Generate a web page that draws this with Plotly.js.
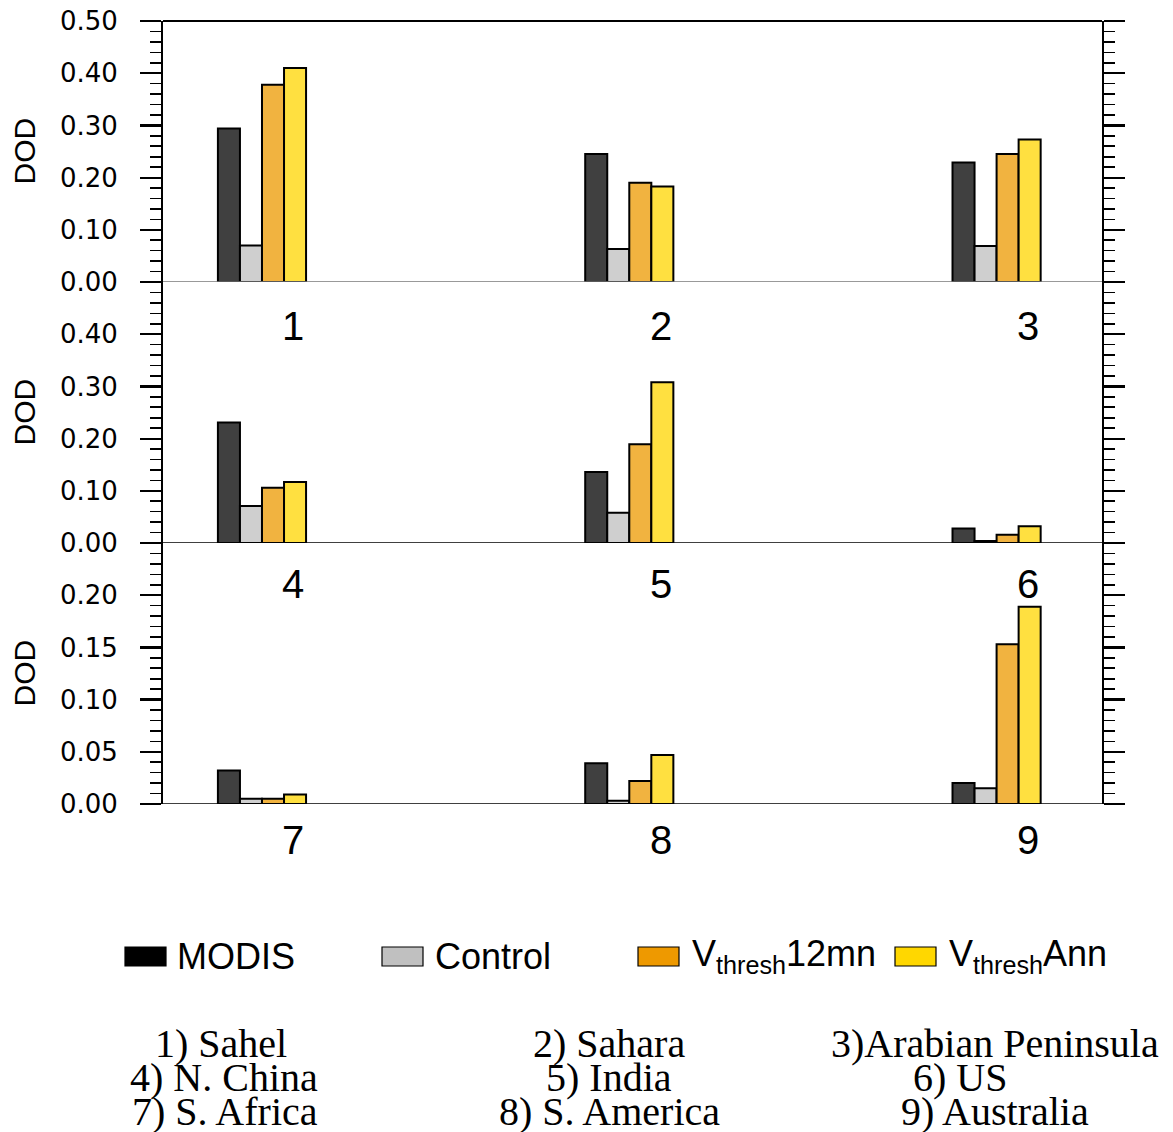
<!DOCTYPE html>
<html>
<head>
<meta charset="utf-8">
<script src="https://cdn.plot.ly/plotly-3.0.1.min.js"></script>
<style>html,body{margin:0;padding:0;background:#fff;}#chart{width:1173px;height:1132px;}</style>
</head>
<body>
<div id="chart"></div>
<script>
// ---- data ----
const regionNums = ['1','2','3','4','5','6','7','8','9'];
const regionNames = ['1) Sahel','2) Sahara','3)Arabian Peninsula','4) N. China','5) India','6) US','7) S. Africa','8) S. America','9) Australia'];
const seriesNames = ['MODIS','Control','V<sub>thresh</sub>12mn','V<sub>thresh</sub>Ann'];
const modis   = [0.294, 0.245, 0.229, 0.231, 0.136, 0.028, 0.032, 0.039, 0.020];
const control = [0.070, 0.063, 0.069, 0.071, 0.058, 0.004, 0.005, 0.003, 0.015];
const vt12mn  = [0.378, 0.190, 0.245, 0.106, 0.189, 0.016, 0.005, 0.022, 0.153];
const vtAnn   = [0.410, 0.183, 0.273, 0.117, 0.308, 0.032, 0.009, 0.047, 0.189];
const panelMax = [0.50, 0.50, 0.25];
const panelLabelMax = [0.50, 0.40, 0.20];
const panelTickStep = [0.10, 0.10, 0.05];
const panelMinorStep = [0.02, 0.02, 0.01];

// ---- styles / layout ----
const barColors = ['#404040','#cfcfcf','#f1b340','#ffe040'];
const legendColors = ['#000000','#c0c0c0','#ee9900','#ffd700'];
const W = 1173, H = 1132;
const L = 163, R = 1102, T = 21, B = 804;
const px2x = p => (p - L) / (R - L);
const py2y = p => (B - p) / (B - T);
const catLabelShift = [-44, -41, -36];

const allSeries = [modis, control, vt12mn, vtAnn];
const traces = [];
for (let p = 0; p < 3; p++) {
  const sfx = p === 0 ? '' : String(p + 1);
  allSeries.forEach((s, k) => {
    traces.push({
      type: 'bar',
      x: [1, 2, 3],
      y: s.slice(p * 3, p * 3 + 3),
      name: seriesNames[k],
      xaxis: 'x' + sfx,
      yaxis: 'y' + sfx,
      marker: {color: barColors[k], line: {color: '#000', width: 2}},
      showlegend: false,
      hoverinfo: 'y'
    });
  });
}

const layout = {
  width: W, height: H,
  margin: {l: L, r: W - R, t: T, b: H - B, pad: 0},
  paper_bgcolor: '#fff', plot_bgcolor: 'rgba(0,0,0,0)',
  barmode: 'group', bargap: 0.76, bargroupgap: 0,
  showlegend: false,
  font: {family: 'Liberation Sans, Arial, sans-serif', color: '#000'},
  shapes: [], annotations: []
};

const domains = [[2/3, 1], [1/3, 2/3], [0, 1/3]];
for (let p = 0; p < 3; p++) {
  const sfx = p === 0 ? '' : String(p + 1);
  const xa = {
    domain: [0, 1], range: [0.7305, 3.287], anchor: 'y' + sfx,
    visible: false, fixedrange: true
  };
  const tv = [], tt = [];
  const n = Math.round(panelLabelMax[p] / panelTickStep[p]);
  for (let i = 0; i <= n; i++) {
    const v = +(i * panelTickStep[p]).toFixed(3);
    tv.push(v);
    tt.push(v.toFixed(2));
  }
  const ya = {
    domain: domains[p], range: [0, panelMax[p]], anchor: 'x' + sfx,
    showline: true, linewidth: 2, linecolor: '#000', mirror: 'ticks',
    ticks: 'outside', ticklen: 21, tickwidth: 2.2, tickcolor: '#000',
    tickmode: 'array', tickvals: tv, ticktext: tt,
    ticklabelstandoff: 17,
    tickfont: {family: 'DejaVu Sans, sans-serif', size: 26, color: '#000'},
    minor: {ticks: 'outside', dtick: panelMinorStep[p], tick0: 0, ticklen: 11, tickwidth: 1.6, tickcolor: '#000', showgrid: false},
    showgrid: false, zeroline: false, fixedrange: true
  };
  layout['xaxis' + sfx] = xa;
  layout['yaxis' + sfx] = ya;

  // zero baseline
  layout.shapes.push({
    type: 'line', xref: 'paper', yref: 'y' + sfx, x0: 0, x1: 1, y0: 0, y1: 0,
    line: {color: p === 0 ? '#777' : '#000', width: 1.5}
  });
  // DOD label
  layout.annotations.push({
    xref: 'paper', yref: 'paper', x: px2x(24), y: (domains[p][0] + domains[p][1]) / 2,
    text: 'DOD', textangle: -90, showarrow: false, xanchor: 'center', yanchor: 'middle',
    font: {family: 'Liberation Sans, Arial, sans-serif', size: 30, color: '#000'}
  });
  // category numbers
  for (let c = 0; c < 3; c++) {
    layout.annotations.push({
      xref: 'x' + sfx, yref: 'y' + sfx, x: c + 1 + 0.085, y: 0, yshift: catLabelShift[p],
      text: regionNums[p * 3 + c], showarrow: false, xanchor: 'center', yanchor: 'middle',
      font: {family: 'Liberation Sans, Arial, sans-serif', size: 40, color: '#000'}
    });
  }
}
// top border
layout.shapes.push({type: 'line', xref: 'paper', yref: 'paper', x0: 0, x1: 1, y0: 1, y1: 1, line: {color: '#000', width: 2.2}});

// custom legend
const legBoxX = [125, 382, 638, 895];
const legTextX = [175, 433, 690, 947];
seriesNames.forEach((nm, k) => {
  layout.shapes.push({
    type: 'rect', xref: 'paper', yref: 'paper',
    x0: px2x(legBoxX[k]), x1: px2x(legBoxX[k] + 41), y0: py2y(966), y1: py2y(947),
    fillcolor: legendColors[k], line: {color: '#000', width: 1.2}
  });
  layout.annotations.push({
    xref: 'paper', yref: 'paper', x: px2x(legTextX[k]), y: py2y(956),
    text: nm, showarrow: false, xanchor: 'left', yanchor: 'middle',
    font: {family: 'Liberation Sans, Arial, sans-serif', size: 36, color: '#000'}
  });
});

// region names
const nameCX = [221, 609, 995, 224, 609, 960, 225, 609, 995];
const rowY = [1043, 1077, 1111];
regionNames.forEach((nm, i) => {
  layout.annotations.push({
    xref: 'paper', yref: 'paper', x: px2x(nameCX[i]), y: py2y(rowY[Math.floor(i / 3)]),
    text: nm, showarrow: false, xanchor: 'center', yanchor: 'middle',
    font: {family: 'Liberation Serif, Times New Roman, serif', size: 40, color: '#000'}
  });
});

Plotly.newPlot('chart', traces, layout, {displayModeBar: false, staticPlot: true});
</script>
</body>
</html>
